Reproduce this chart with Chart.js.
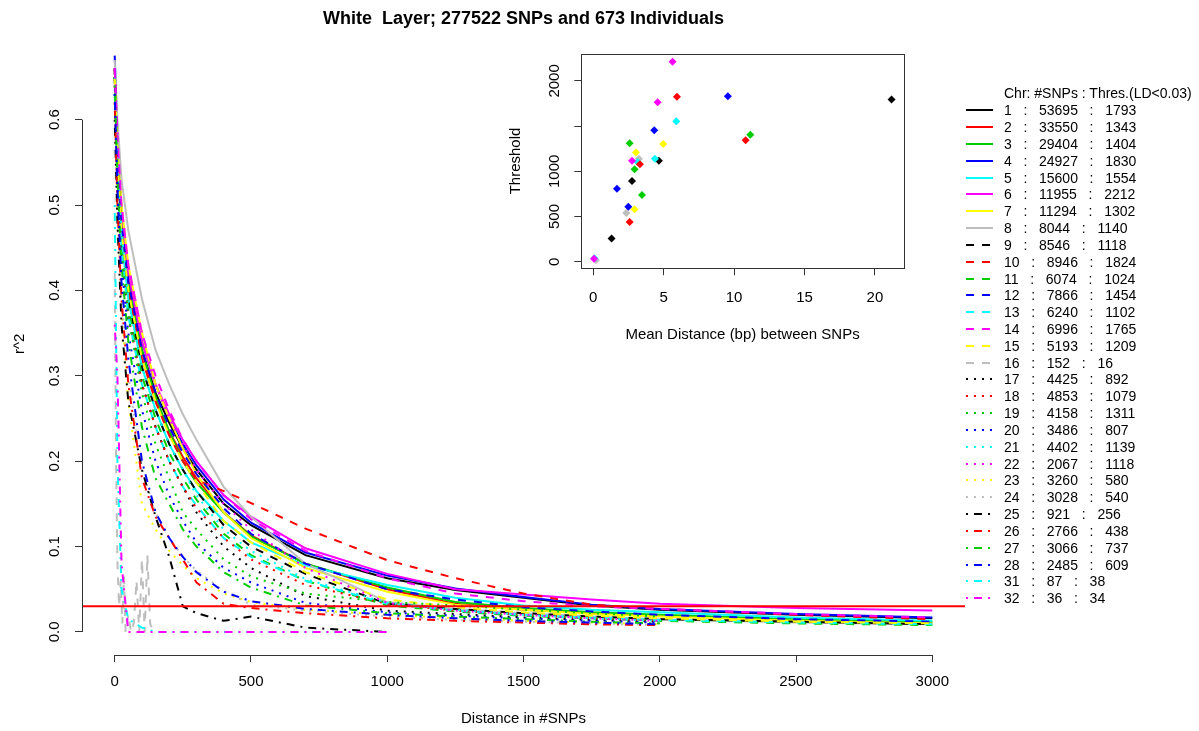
<!DOCTYPE html>
<html>
<head>
<meta charset="utf-8">
<title>LD decay - White Layer</title>
<script src="https://cdn.jsdelivr.net/npm/chart.js@4.4.0/dist/chart.umd.min.js"></script>
<style>
  html, body { margin: 0; padding: 0; background: #fff; }
  #wrap { position: relative; width: 1199px; height: 731px; font-family: "Liberation Sans", Arial, sans-serif; }
  #main { position: absolute; left: 0; top: 0; }
  #inset { position: absolute; left: 500px; top: 40px; }
  #legend { position: absolute; left: 960px; top: 85px; font-size: 14px; color: #000; }
  .row { height: 16.83px; display: flex; align-items: center; white-space: pre; }
  .row svg { flex: none; margin-left: 6px; margin-right: 11px; }
  .row.head { padding-left: 44px; }
</style>
</head>
<body>
<div id="wrap">
  <canvas id="main" width="1199" height="731"></canvas>
  <canvas id="inset" width="420" height="310"></canvas>
  <div id="legend"></div>
</div>
<script>
// ---- data ----
const chrNames   = ['1','2','3','4','5','6','7','8','9','10','11','12','13','14','15','16',
                    '17','18','19','20','21','22','23','24','25','26','27','28','31','32'];
const snpCounts  = [53695,33550,29404,24927,15600,11955,11294,8044,8546,8946,6074,7866,6240,6996,5193,152,
                    4425,4853,4158,3486,4402,2067,3260,3028,921,2766,3066,2485,87,36];
const thresholds = [1793,1343,1404,1830,1554,2212,1302,1140,1118,1824,1024,1454,1102,1765,1209,16,
                    892,1079,1311,807,1139,1118,580,540,256,438,737,609,38,34];
// mean distance (bp) between SNPs, inset x values
const meanDistance = [21.18,10.82,11.15,9.56,5.89,5.63,4.97,3.24,4.66,5.94,2.93,4.33,3.15,4.57,3.03,0.19,
                      2.75,3.31,2.58,1.68,4.38,2.75,2.93,2.34,1.30,2.58,3.46,2.49,0.08,0.05];

// distance in #SNPs (shared x positions), chr16 has its own short range
const distances = [0,10,25,50,100,150,200,250,300,400,500,700,1000,1250,1500,1750,2000,2500,3000];
const chr16Distances = [0,5,10,16,22,28,34,40,50,60,70,80,90,100,110,120,130,140];

// r^2 per chromosome
const r2Chr1  = [0.66,0.57,0.48,0.41,0.33,0.28,0.245,0.215,0.19,0.15,0.125,0.09,0.063,0.049,0.04,0.031,0.026,0.02,0.016];
const r2Chr2  = [0.65,0.56,0.47,0.40,0.32,0.27,0.235,0.205,0.18,0.14,0.113,0.08,0.05,0.033,0.026,0.022,0.019,0.014,0.011];
const r2Chr3  = [0.66,0.57,0.48,0.41,0.33,0.275,0.235,0.2,0.175,0.14,0.112,0.08,0.052,0.035,0.028,0.023,0.02,0.015,0.012];
const r2Chr4  = [0.675,0.58,0.49,0.42,0.34,0.29,0.25,0.22,0.195,0.155,0.128,0.093,0.066,0.051,0.041,0.032,0.027,0.021,0.017];
const r2Chr5  = [0.64,0.55,0.46,0.39,0.31,0.26,0.22,0.19,0.165,0.13,0.105,0.078,0.055,0.04,0.031,0.026,0.023,0.017,0.013];
const r2Chr6  = [0.65,0.57,0.49,0.42,0.34,0.29,0.255,0.225,0.2,0.16,0.135,0.098,0.068,0.05,0.044,0.038,0.033,0.028,0.025];
const r2Chr7  = [0.66,0.58,0.5,0.43,0.35,0.29,0.25,0.215,0.185,0.14,0.11,0.075,0.047,0.032,0.026,0.021,0.018,0.013,0.01];
const r2Chr8  = [0.67,0.6,0.53,0.47,0.39,0.33,0.29,0.255,0.225,0.17,0.135,0.08,0.035,0.027,0.022,0.018,0.015,0.011,0.009];
const r2Chr9  = [0.65,0.56,0.47,0.39,0.31,0.26,0.22,0.19,0.165,0.125,0.1,0.068,0.033,0.027,0.022,0.018,0.015,0.012,0.009];
const r2Chr10 = [0.66,0.57,0.48,0.41,0.33,0.27,0.23,0.2,0.178,0.165,0.151,0.121,0.084,0.063,0.045,0.032,0.027,0.02,0.015];
const r2Chr11 = [0.65,0.55,0.46,0.38,0.3,0.25,0.21,0.18,0.155,0.115,0.09,0.06,0.031,0.024,0.019,0.016,0.013,0.01,0.008];
const r2Chr12 = [0.66,0.57,0.48,0.41,0.33,0.28,0.24,0.21,0.185,0.145,0.115,0.08,0.05,0.038,0.029,0.024,0.02,0.015,0.012];
const r2Chr13 = [0.63,0.54,0.45,0.37,0.29,0.24,0.2,0.17,0.148,0.11,0.088,0.06,0.033,0.025,0.02,0.017,0.014,0.011,0.009];
const r2Chr14 = [0.66,0.58,0.5,0.43,0.35,0.3,0.26,0.225,0.2,0.16,0.132,0.095,0.063,0.045,0.036,0.03,0.027,0.021,0.017];
const r2Chr15 = [0.65,0.56,0.47,0.4,0.32,0.27,0.23,0.2,0.175,0.13,0.105,0.07,0.038,0.029,0.023,0.019,0.016,0.012,0.01];
const r2Chr16 = [0.42,0.2,0.08,0.03,0.06,0.01,0.065,0.0,0.02,0.0,0.01,0.06,0.0,0.085,0.0,0.09,0.01,0.0];
const r2Chr17 = [0.65,0.55,0.45,0.37,0.29,0.24,0.2,0.17,0.14,0.1,0.075,0.042,0.025,0.021,0.017,0.014,0.012];
const r2Chr18 = [0.64,0.54,0.45,0.37,0.29,0.24,0.2,0.17,0.145,0.11,0.085,0.055,0.033,0.025,0.02,0.016,0.013];
const r2Chr19 = [0.65,0.55,0.45,0.37,0.28,0.22,0.18,0.14,0.12,0.085,0.065,0.045,0.035,0.031,0.026,0.022,0.018];
const r2Chr20 = [0.63,0.53,0.43,0.35,0.26,0.2,0.16,0.13,0.105,0.075,0.058,0.034,0.023,0.019,0.016,0.013,0.011];
const r2Chr21 = [0.65,0.56,0.47,0.39,0.31,0.26,0.22,0.19,0.16,0.12,0.095,0.062,0.034,0.026,0.02,0.016,0.013];
const r2Chr22 = [0.66,0.58,0.5,0.43,0.35,0.29,0.25,0.22,0.19,0.15,0.12,0.075,0.034,0.025,0.02,0.016,0.013];
const r2Chr23 = [0.62,0.5,0.38,0.27,0.15,0.12,0.095,0.078,0.063,0.045,0.035,0.026,0.02,0.016,0.013,0.011,0.009];
const r2Chr24 = [0.62,0.5,0.39,0.3,0.19,0.14,0.11,0.088,0.072,0.048,0.032,0.025,0.018,0.014,0.012,0.01,0.008];
const r2Chr25 = [0.6,0.48,0.36,0.27,0.19,0.135,0.088,0.03,0.022,0.013,0.018,0.005,0.0];
const r2Chr26 = [0.62,0.5,0.39,0.29,0.18,0.135,0.11,0.085,0.058,0.033,0.028,0.022,0.016,0.013,0.011,0.009,0.008];
const r2Chr27 = [0.64,0.53,0.43,0.34,0.24,0.18,0.15,0.12,0.1,0.07,0.052,0.031,0.022,0.018,0.015,0.012,0.01];
const r2Chr28 = [0.63,0.52,0.41,0.32,0.2,0.14,0.11,0.088,0.07,0.047,0.036,0.027,0.02,0.016,0.013,0.011,0.009];
const r2Chr31 = [0.5,0.2,0.05,0.015,0.005,0,0,0,0,0,0,0,0];
const r2Chr32 = [0.36,0.3,0.08,0,0,0,0,0,0,0,0,0,0];

const r2Series = [r2Chr1,r2Chr2,r2Chr3,r2Chr4,r2Chr5,r2Chr6,r2Chr7,r2Chr8,r2Chr9,r2Chr10,r2Chr11,r2Chr12,
                  r2Chr13,r2Chr14,r2Chr15,r2Chr16,r2Chr17,r2Chr18,r2Chr19,r2Chr20,r2Chr21,r2Chr22,r2Chr23,
                  r2Chr24,r2Chr25,r2Chr26,r2Chr27,r2Chr28,r2Chr31,r2Chr32];

const ldThreshold = 0.03;
const xTicks = [0,500,1000,1500,2000,2500,3000];
const yTicks = [0,0.1,0.2,0.3,0.4,0.5,0.6];
const insetXTicks = [0,5,10,15,20];
const insetYTicks = [0,500,1000,1500,2000];

// ---- styles (R default palette, lty 1..4 at lwd 2) ----
const palette = ['#000000','#FF0000','#00CD00','#0000FF','#00FFFF','#FF00FF','#FFFF00','#BEBEBE'];
const dashes = [[], [8,8], [2,6], [2,6,8,6]];
const seriesColor = chrNames.map((c, i) => palette[i % 8]);
const seriesDash = chrNames.map((c, i) => dashes[Math.min(Math.floor(i / 8), 3)]);

const FONT = "'Liberation Sans', Arial, sans-serif";
Chart.defaults.font.family = FONT;
Chart.defaults.color = '#000';

// R style axis lines: only across the tick range
const rAxes = {
  id: 'rAxes',
  afterDraw(chart) {
    const {ctx, chartArea, scales} = chart;
    const x = scales.x, y = scales.y;
    ctx.save();
    ctx.strokeStyle = '#333';
    ctx.lineWidth = 1;
    ctx.beginPath();
    const by = Math.round(chartArea.bottom) + 0.5;
    ctx.moveTo(x.getPixelForValue(xTicks[0]), by);
    ctx.lineTo(x.getPixelForValue(xTicks[xTicks.length - 1]), by);
    const lx = Math.round(chartArea.left) + 0.5;
    ctx.moveTo(lx, y.getPixelForValue(yTicks[0]));
    ctx.lineTo(lx, y.getPixelForValue(yTicks[yTicks.length - 1]));
    ctx.stroke();
    ctx.restore();
  }
};

const boxPlugin = {
  id: 'rBox',
  afterDraw(chart) {
    const {ctx, chartArea: a} = chart;
    ctx.save();
    ctx.strokeStyle = '#333';
    ctx.lineWidth = 1;
    ctx.strokeRect(Math.round(a.left) + 0.5, Math.round(a.top) + 0.5,
                   Math.round(a.right - a.left), Math.round(a.bottom - a.top));
    ctx.restore();
  }
};

// ---- main chart ----
const datasets = r2Series.map((vals, i) => {
  const xs = chrNames[i] === '16' ? chr16Distances : distances;
  return {
    label: chrNames[i],
    data: vals.map((v, k) => ({x: xs[k], y: v})),
    borderColor: seriesColor[i],
    borderDash: seriesDash[i],
    borderWidth: 2,
    pointRadius: 0,
    tension: 0,
    fill: false,
    order: 100 - i
  };
});
const xMin = -120, xMax = 3120;
datasets.push({
  label: 'LD threshold',
  data: [{x: xMin, y: ldThreshold}, {x: xMax, y: ldThreshold}],
  borderColor: '#FF0000',
  borderWidth: 2,
  pointRadius: 0,
  order: 0
});

new Chart(document.getElementById('main'), {
  type: 'line',
  data: {datasets},
  options: {
    responsive: false,
    animation: false,
    devicePixelRatio: 1,
    layout: {padding: {left: 0, right: 234, top: 0, bottom: 0}},
    plugins: {
      legend: {display: false},
      tooltip: {enabled: false},
      title: {
        display: true,
        fullSize: false,
        text: 'White  Layer; 277522 SNPs and 673 Individuals',
        color: '#000',
        font: {size: 18, weight: 'bold', family: FONT},
        padding: {top: 8, bottom: 3}
      }
    },
    scales: {
      x: {
        type: 'linear', min: xMin, max: xMax,
        afterFit: s => { s.height = 76; },
        afterBuildTicks: s => { s.ticks = xTicks.map(v => ({value: v})); },
        grid: {display: true, drawOnChartArea: false, drawTicks: true, tickLength: 7, color: '#333'},
        border: {display: false},
        ticks: {autoSkip: false, maxRotation: 0, padding: 11, font: {size: 15}, color: '#000',
                callback: v => String(v)},
        title: {display: true, text: 'Distance in #SNPs', color: '#000', font: {size: 15},
                padding: {top: 0, bottom: 3}}
      },
      y: {
        type: 'linear', min: -0.027, max: 0.702,
        afterFit: s => { s.width = 82; },
        afterBuildTicks: s => { s.ticks = yTicks.map(v => ({value: v})); },
        grid: {display: true, drawOnChartArea: false, drawTicks: true, tickLength: 7, color: '#333'},
        border: {display: false},
        ticks: {autoSkip: false, minRotation: 90, maxRotation: 90, crossAlign: 'center', padding: 9.5,
                font: {size: 15}, color: '#000', callback: v => v.toFixed(1)},
        title: {display: true, text: 'r^2', color: '#000', font: {size: 15},
                padding: {top: 11, bottom: 0}}
      }
    }
  },
  plugins: [rAxes]
});

// ---- inset scatter ----
new Chart(document.getElementById('inset'), {
  type: 'scatter',
  data: {
    datasets: [{
      data: meanDistance.map((d, i) => ({x: d, y: thresholds[i]})),
      pointStyle: 'rectRot',
      pointRadius: 4,
      pointBorderWidth: 0,
      pointBackgroundColor: seriesColor
    }]
  },
  options: {
    responsive: false,
    animation: false,
    devicePixelRatio: 1,
    layout: {padding: {left: 0, right: 16.2, top: 13.8, bottom: 0}},
    plugins: {legend: {display: false}, tooltip: {enabled: false}},
    scales: {
      x: {
        type: 'linear', min: -0.85, max: 22.05,
        afterFit: s => { s.height = 81.8; },
        afterBuildTicks: s => { s.ticks = insetXTicks.map(v => ({value: v})); },
        grid: {display: true, drawOnChartArea: false, drawTicks: true, tickLength: 7, color: '#333'},
        border: {display: false},
        ticks: {autoSkip: false, maxRotation: 0, padding: 14, font: {size: 15}, color: '#000',
                callback: v => String(v)},
        title: {display: true, text: 'Mean Distance (bp) between SNPs', color: '#000', font: {size: 15},
                padding: {top: 0, bottom: 6}}
      },
      y: {
        type: 'linear', min: -71.8, max: 2299.8,
        afterFit: s => { s.width = 81.3; },
        afterBuildTicks: s => { s.ticks = insetYTicks.map(v => ({value: v})); },
        grid: {display: true, drawOnChartArea: false, drawTicks: true, tickLength: 7, color: '#333'},
        border: {display: false},
        ticks: {autoSkip: false, minRotation: 90, maxRotation: 90, crossAlign: 'center', padding: 3,
                font: {size: 15}, color: '#000',
                callback: v => (v === 1500 ? '' : String(v))},
        title: {display: true, text: 'Threshold', color: '#000', font: {size: 15},
                padding: {top: 7, bottom: 0}}
      }
    }
  },
  plugins: [boxPlugin]
});

// ---- legend ----
const legend = document.getElementById('legend');
const head = document.createElement('div');
head.className = 'row head';
head.textContent = 'Chr: #SNPs : Thres.(LD<0.03)';
legend.appendChild(head);
chrNames.forEach((c, i) => {
  const row = document.createElement('div');
  row.className = 'row';
  const svgNS = 'http://www.w3.org/2000/svg';
  const svg = document.createElementNS(svgNS, 'svg');
  svg.setAttribute('width', '27');
  svg.setAttribute('height', '6');
  const ln = document.createElementNS(svgNS, 'line');
  ln.setAttribute('x1', '0'); ln.setAttribute('y1', '3');
  ln.setAttribute('x2', '27'); ln.setAttribute('y2', '3');
  ln.setAttribute('stroke', seriesColor[i]);
  ln.setAttribute('stroke-width', '2');
  if (seriesDash[i].length) ln.setAttribute('stroke-dasharray', seriesDash[i].join(' '));
  svg.appendChild(ln);
  row.appendChild(svg);
  const txt = document.createElement('span');
  txt.textContent = `${c}   :   ${snpCounts[i]}   :   ${thresholds[i]}`;
  row.appendChild(txt);
  legend.appendChild(row);
});
</script>
</body>
</html>
